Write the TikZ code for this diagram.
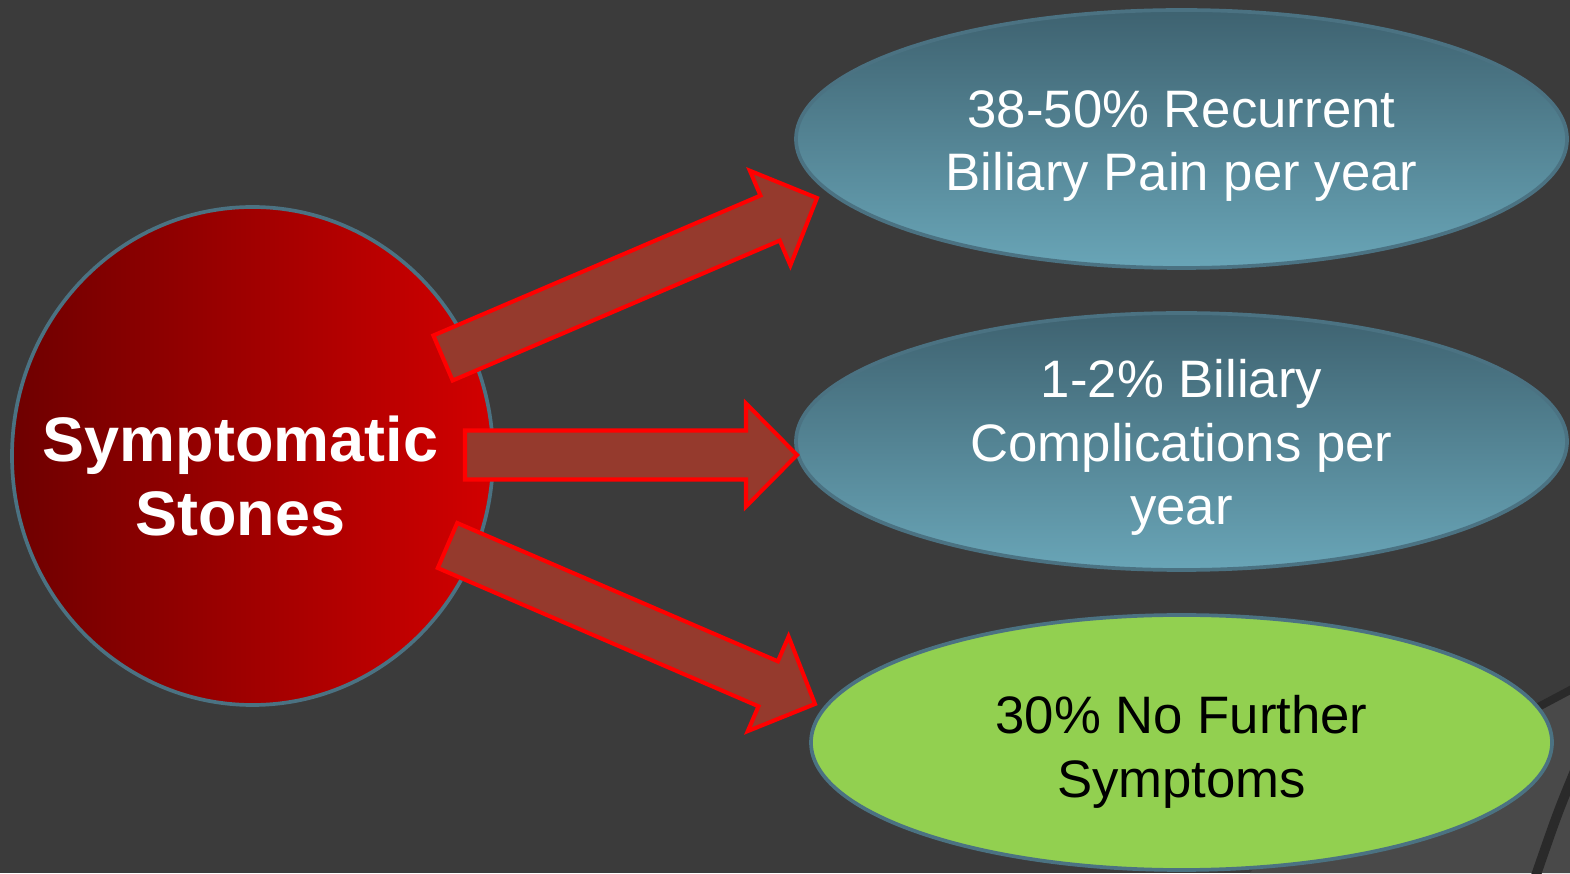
\documentclass[tikz,border=0pt]{standalone}
\usepackage{fontspec}
\setmainfont{Liberation Sans}
\usetikzlibrary{shapes.geometric,calc}
\definecolor{slidebg}{HTML}{3B3B3B}
\definecolor{slidelight}{HTML}{494949}
\definecolor{slidestripe}{HTML}{2A2A2A}
\definecolor{bluetop}{HTML}{3E6270}
\definecolor{bluebot}{HTML}{69A5B7}
\definecolor{blueedge}{HTML}{4B7282}
\definecolor{greenfill}{HTML}{92D050}
\definecolor{arrowfill}{HTML}{953A2D}

\begin{document}
\begin{tikzpicture}[
  blob/.style={ellipse, inner sep=0pt, line width=2.1pt, draw=blueedge},
  bluebox/.style={blob, top color=bluetop, bottom color=bluebot, minimum width=15.42cm, minimum height=5.16cm},
  greenbox/.style={blob, fill=greenfill, minimum width=14.82cm, minimum height=5.1cm},
  boxtext/.style={align=center, font=\fontsize{30}{36.3}\selectfont},
  bigarrow/.style={draw=red, fill=arrowfill, line width=2.3pt, line join=miter}
]
\fill[slidebg] (0,0) rectangle (31.4,17.46);
\useasboundingbox (0,0) rectangle (31.4,17.46);

% background corner
\fill[slidelight] (25.0,0) -- (25.4,0.47) -- (31.4,3.66) -- (31.4,0) -- cycle;
\draw[slidestripe, line width=4.5pt] (25.4,0.47) -- (31.5,3.71);
\draw[slidestripe, line width=5.5pt] (31.5,2.05) .. controls (31.15,1.2) .. (30.7,-0.1);

\node[blob, minimum width=9.62cm, minimum height=9.96cm,
  left color={rgb,255:red,110;green,0;blue,0}, right color={rgb,255:red,210;green,0;blue,0}] (stones) at (5.05,8.34) {};
\node[align=center, text=white, font=\bfseries\fontsize{35.8}{42.5}\selectfont]
  at ([xshift=-0.24cm, yshift=-0.40cm]stones.center) {Symptomatic\\Stones};

\node[bluebox] (pain) at (23.63,14.68) {};
\node[boxtext, text=white] at ([yshift=-0.14cm]pain.center) {38-50\% Recurrent\\Biliary Pain per year};
\node[bluebox, minimum height=5.14cm] (compl) at (23.63,8.63) {};
\node[boxtext, text=white] at ([yshift=-0.12cm]compl.center) {1-2\% Biliary\\Complications per\\year};
\node[greenbox] (nosym) at (23.63,2.61) {};
\node[boxtext, text=black] at ([yshift=-0.19cm]nosym.center) {30\% No Further\\Symptoms};

\coordinate (s1) at (8.86,10.30);  \coordinate (e1) at (16.34,13.50);
\coordinate (s2) at (9.30,8.36);   \coordinate (e2) at (15.94,8.36);
\coordinate (s3) at (8.95,6.55);   \coordinate (e3) at (16.30,3.38);
\foreach \a/\b in {s1/e1,s2/e2,s3/e3}{
  \coordinate (hb) at ($(\b)!1.02cm!(\a)$);
  \draw[bigarrow] ($(\a)!.49cm!90:(\b)$) -- ($(hb)!.49cm!-90:(\a)$) -- ($(hb)!1.03cm!-90:(\a)$)
    -- (\b) -- ($(hb)!1.03cm!90:(\a)$) -- ($(hb)!.49cm!90:(\a)$) -- ($(\a)!.49cm!-90:(\b)$) -- cycle;
}
\end{tikzpicture}
\end{document}
